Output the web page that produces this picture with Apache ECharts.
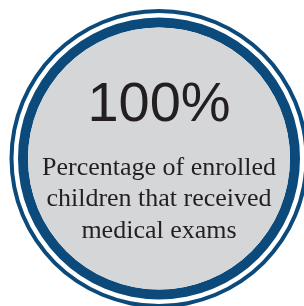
<!DOCTYPE html>
<html>
<head>
<meta charset="utf-8">
<script src="https://cdn.jsdelivr.net/npm/echarts@6/dist/echarts.min.js"></script>
<style>
  html, body { margin: 0; padding: 0; background: #fff; }
  #chart { width: 304px; height: 306px; }
</style>
</head>
<body>
<div id="chart"></div>
<script>
// share of enrolled children with a medical exam
var percent = [100];
var caption = ['Percentage of enrolled', 'children that received', 'medical exams'];

var blue = '#0b4a7b';
var grey = '#d5d6d8';
var ink = '#231f20';
var center = [159, 158.5];

var myChart = echarts.init(document.getElementById('chart'));

function ring(inner, outer, color) {
    return {
        type: 'pie',
        center: center,
        radius: [inner, outer],
        silent: true,
        label: { show: false },
        labelLine: { show: false },
        itemStyle: { color: color, borderWidth: 0 },
        data: percent.map(function (v) { return { value: v }; })
    };
}

var captionText = caption.map(function (line, i) {
    return {
        type: 'text',
        z: 100,
        x: center[0],
        y: 168 + i * 31.5,
        style: {
            text: line,
            textAlign: 'center',
            textVerticalAlign: 'middle',
            fontSize: 26,
            fontFamily: '"Liberation Serif", serif',
            fill: ink
        }
    };
});

var option = {
    animation: false,
    series: [
        ring(145.5, 149.5, blue),
        ring(131, 141, blue),
        ring(0, 131, grey)
    ],
    graphic: [
        {
            type: 'text',
            z: 100,
            x: center[0],
            y: 105.5,
            style: {
                text: percent[0] + '%',
                textAlign: 'center',
                textVerticalAlign: 'middle',
                fontSize: 56,
                fontFamily: '"Liberation Sans", Arial, sans-serif',
                fill: ink
            }
        }
    ].concat(captionText)
};

myChart.setOption(option);
</script>
</body>
</html>
